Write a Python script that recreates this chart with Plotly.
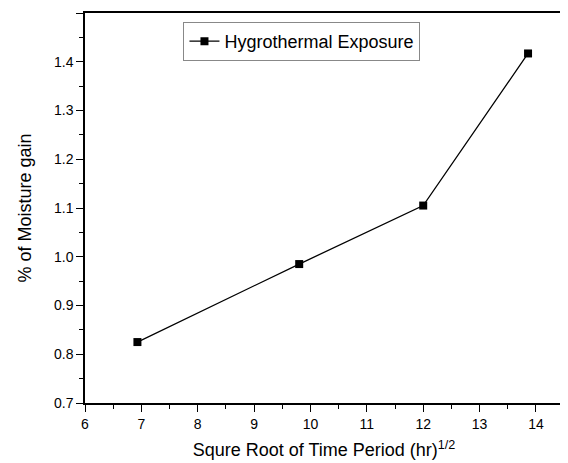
import plotly.graph_objects as go

x_vals = [6.93, 9.80, 12.0, 13.86]
y_vals = [0.825, 0.985, 1.105, 1.417]
series_name = "Hygrothermal Exposure"

fig = go.Figure()
fig.add_trace(go.Scatter(
    x=x_vals, y=y_vals, mode="lines+markers", name=series_name,
    line=dict(color="black", width=1.3),
    marker=dict(symbol="square", size=8, color="black"),
))

FONT = "Arial, Liberation Sans"
axis_common = dict(
    showline=True, linecolor="black", linewidth=1.5, mirror=True,
    ticks="outside", ticklen=7, tickwidth=1.3, tickcolor="black",
    showgrid=False, zeroline=False,
    tickfont=dict(family=FONT, size=14, color="black"),
)

fig.update_xaxes(
    range=[6, 14.48], dtick=1, tick0=6,
    minor=dict(ticks="outside", ticklen=4, dtick=0.5, tickcolor="black", tickwidth=1.3),
    title=dict(text="Squre Root of Time Period (hr)<sup>1/2</sup>",
               font=dict(family=FONT, size=18, color="black"), standoff=13),
    **axis_common,
)
fig.update_yaxes(
    range=[0.7, 1.5], dtick=0.1, tick0=0.7, tickformat=".1f",
    minor=dict(ticks="outside", ticklen=4, dtick=0.05, tickcolor="black", tickwidth=1.3),
    title=dict(text="% of Moisture gain",
               font=dict(family=FONT, size=18, color="black"), standoff=18),
    **axis_common,
)

fig.update_layout(
    width=560, height=455,
    margin=dict(l=77, r=3, t=4, b=60),
    paper_bgcolor="white", plot_bgcolor="white",
    showlegend=True,
    legend=dict(x=0.206, y=0.977, xanchor="left", yanchor="top",
                bordercolor="#888888", borderwidth=1, bgcolor="white",
                font=dict(family=FONT, size=18, color="black"),
                tracegroupgap=0, itemwidth=30),
)

fig.write_html("out.html")
